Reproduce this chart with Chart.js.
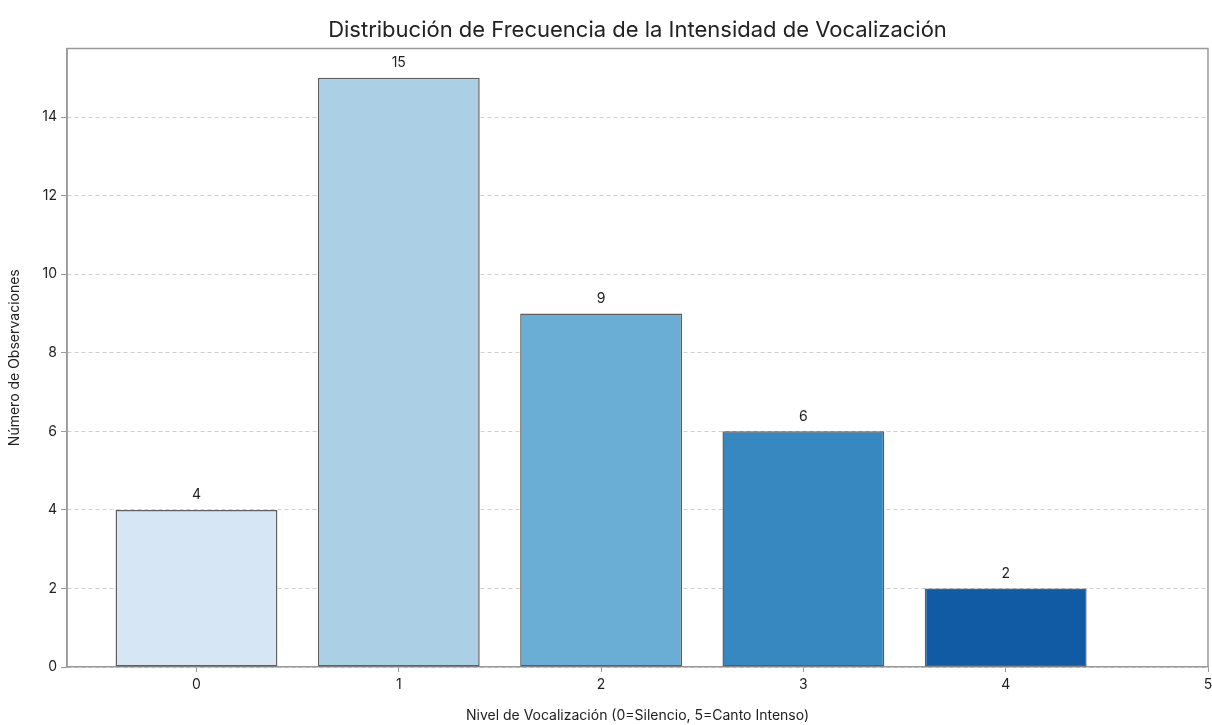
<!DOCTYPE html>
<html>
<head>
<meta charset="utf-8">
<script src="https://cdn.jsdelivr.net/npm/chart.js@4"></script>
<style>
  html, body { margin: 0; padding: 0; background: #fff; }
  #wrap { width: 1212px; height: 725px; }
</style>
</head>
<body>
<div id="wrap"><canvas id="chart"></canvas></div>
<script>
const levels = [0, 1, 2, 3, 4]
const counts = [4, 15, 9, 6, 2]
const barColors = ['#d6e6f4', '#abd0e6', '#6aaed6', '#3787c0', '#105ba4']
const xTicks = [0, 1, 2, 3, 4, 5]
const yTicks = [0, 2, 4, 6, 8, 10, 12, 14]

const font = 'Inter, "Noto Sans", sans-serif'

// value labels above bars + top/right spines
const extras = {
  id: 'extras',
  afterDatasetsDraw(chart) {
    const { ctx, chartArea } = chart
    const meta = chart.getDatasetMeta(0)
    ctx.save()
    ctx.font = '14px ' + font
    ctx.fillStyle = '#222'
    ctx.textAlign = 'center'
    ctx.textBaseline = 'bottom'
    meta.data.forEach((bar, i) => {
      ctx.fillText(String(counts[i]), bar.x, bar.y - 8)
    })
    ctx.strokeStyle = '#999'
    ctx.lineWidth = 1.5
    ctx.setLineDash([])
    ctx.beginPath()
    ctx.moveTo(chartArea.left, chartArea.bottom)
    ctx.lineTo(chartArea.left, chartArea.top)
    ctx.lineTo(chartArea.right, chartArea.top)
    ctx.lineTo(chartArea.right, chartArea.bottom)
    ctx.stroke()
    ctx.restore()
  }
}

new Chart(document.getElementById('chart'), {
  type: 'bar',
  data: {
    datasets: [{
      data: levels.map((x, i) => ({ x, y: counts[i] })),
      backgroundColor: barColors,
      borderColor: 'rgba(40,40,40,0.75)',
      borderWidth: 1.5,
      borderSkipped: false,
      barPercentage: 0.8,
      categoryPercentage: 1
    }]
  },
  options: {
    responsive: true,
    maintainAspectRatio: false,
    animation: false,
    layout: { padding: { top: 0, right: 4, bottom: 0, left: 0 } },
    plugins: {
      legend: { display: false },
      tooltip: { enabled: false },
      title: {
        display: true,
        fullSize: false,
        text: 'Distribución de Frecuencia de la Intensidad de Vocalización',
        color: '#222',
        font: { family: font, size: 22, weight: 'normal' },
        padding: { top: 17, bottom: 5 }
      }
    },
    scales: {
      x: {
        type: 'linear',
        min: -0.64,
        max: 5,
        offset: false,
        afterBuildTicks(scale) { scale.ticks = xTicks.map(v => ({ value: v })) },
        afterFit(scale) { scale.paddingLeft = 0; scale.paddingRight = 0; scale.height = 58 },
        grid: { drawOnChartArea: false, offset: false, color: '#999', tickLength: 5 },
        border: { color: '#999', width: 1.5 },
        ticks: { color: '#222', font: { family: font, size: 14 }, padding: 4, maxRotation: 0 },
        title: {
          display: true,
          text: 'Nivel de Vocalización (0=Silencio, 5=Canto Intenso)',
          color: '#222',
          font: { family: font, size: 14 },
          padding: { top: 4, bottom: 1 }
        }
      },
      y: {
        min: 0,
        max: 15.75,
        afterBuildTicks(scale) { scale.ticks = yTicks.map(v => ({ value: v })) },
        afterFit(scale) { scale.width = 67 },
        grid: { color: '#cfcfcf', tickLength: 6, tickColor: '#999', tickBorderDash: [] },
        border: { color: '#999', width: 1.5, dash: [4, 3] },
        ticks: { color: '#222', font: { family: font, size: 14 }, padding: 4 },
        title: {
          display: true,
          text: 'Número de Observaciones',
          color: '#222',
          font: { family: font, size: 14 },
          padding: { top: 6, bottom: 4 }
        }
      }
    }
  },
  plugins: [extras]
})
</script>
</body>
</html>
